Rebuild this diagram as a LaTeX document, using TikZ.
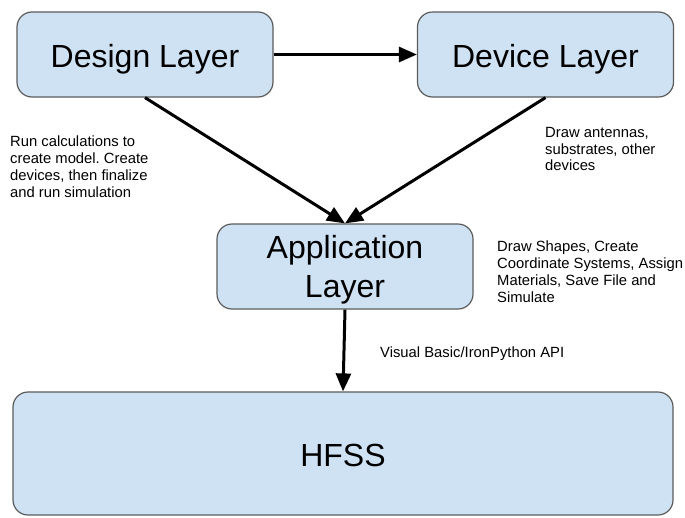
\documentclass[tikz,border=0pt]{standalone}
\usepackage{fontspec}
\setmainfont{Liberation Sans}
\usepackage{tikz}
\usetikzlibrary{arrows.meta}
\definecolor{layerfill}{HTML}{CFE2F3}
\definecolor{layerline}{HTML}{5B5B5B}
\newcommand{\bigfont}{\fontsize{32}{39}\selectfont}
\newcommand{\notefont}{\fontsize{14.8}{16.7}\selectfont}
\frenchspacing

\begin{document}
\begin{tikzpicture}[x=1pt, y=-1pt,
    layer/.style={draw=layerline, fill=layerfill, line width=1.2pt, rounded corners=15pt,
      minimum width=256pt, minimum height=85pt, align=center, font=\bigfont, text depth=0pt},
    oneline/.style={text height=26.6pt},
    note/.style={anchor=north west, inner sep=0pt, align=left, font=\notefont},
    flow/.style={line width=3pt, -{Triangle[length=18pt, width=15pt]}}]
    \useasboundingbox (0,0) rectangle (685,517);
    \node[layer, oneline] (design) at (145,54.5) {Design Layer};
    \node[layer, oneline] (device) at (545.5,54.5) {Device Layer};
    \node[layer] (app) at (345,266.5) {Application\\Layer};
    \node[layer, oneline, minimum width=660pt, minimum height=123pt] (hfss) at (343,453.5) {HFSS};
    \draw[flow] (design) -- (device);
    \draw[flow] (design.south) -- (app.north);
    \draw[flow] (device.south) -- (app.north);
    \draw[flow] (app.south) -- (hfss.north);
    % notes
    \node[note] (design-note) at (10,136) {Run calculations to\\create model. Create\\devices, then finalize\\and run simulation};
    \node[note] (device-note) at (545,127) {Draw antennas,\\substrates, other\\devices};
    \node[note] (app-note) at (497,241) {Draw Shapes, Create\\Coordinate Systems, Assign\\Materials, Save File and\\Simulate};
    \node[note] (api-note) at (380,347) {Visual Basic/IronPython API};
  \end{tikzpicture}
\end{document}
